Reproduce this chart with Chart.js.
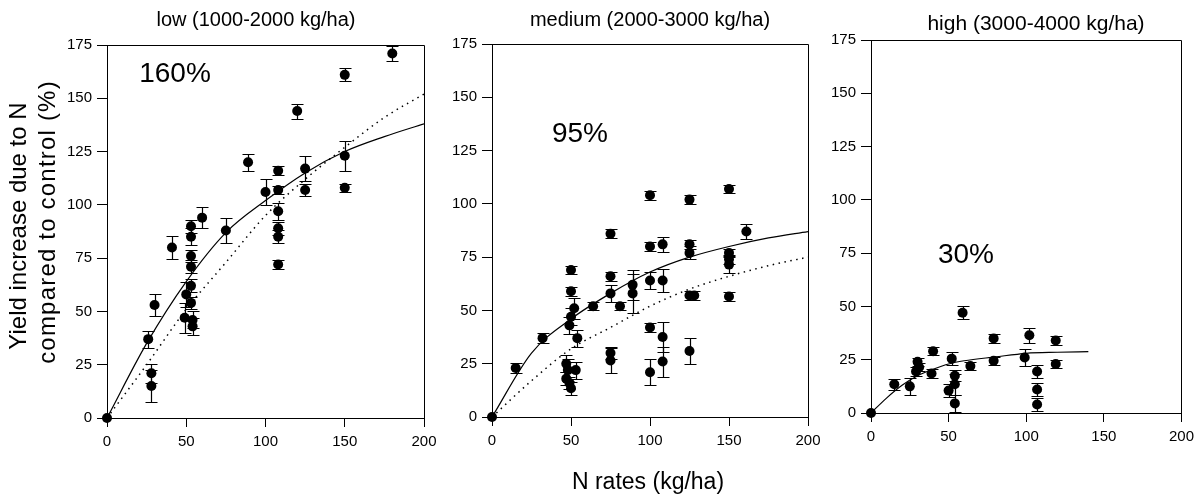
<!DOCTYPE html>
<html><head><meta charset="utf-8">
<script src="https://cdn.jsdelivr.net/npm/chart.js@4.4.1/dist/chart.umd.min.js"></script>
<style>
html,body{margin:0;padding:0;background:#fff;}
#wrap{position:relative;width:1200px;height:496px;overflow:hidden;background:#fff;font-family:"Liberation Sans",Arial,sans-serif;color:#000;}
canvas{position:absolute;left:0;top:0;}
.t{position:absolute;white-space:nowrap;transform:translate(-50%,-50%);line-height:1;}
.r{transform:translate(-50%,-50%) rotate(-90deg);}
</style></head><body>
<div id="wrap">
<canvas id="c1" width="1200" height="496"></canvas>
<canvas id="c2" width="1200" height="496"></canvas>
<canvas id="c3" width="1200" height="496"></canvas>
<div class="t" style="left:256px;top:19px;font-size:20px">low (1000-2000 kg/ha)</div>
<div class="t" style="left:650px;top:19px;font-size:20px">medium (2000-3000 kg/ha)</div>
<div class="t" style="left:1036px;top:22px;font-size:21px">high (3000-4000 kg/ha)</div>
<div class="t" style="left:175px;top:73px;font-size:28px">160%</div>
<div class="t" style="left:580px;top:133px;font-size:28px">95%</div>
<div class="t" style="left:966px;top:254px;font-size:28px">30%</div>
<div class="t r" style="left:18px;top:226px;font-size:24px">Yield increase due to N</div>
<div class="t r" style="left:47px;top:222px;font-size:24px;letter-spacing:1.2px">compared to control (%)</div>
<div class="t" style="left:648px;top:481px;font-size:23px">N rates (kg/ha)</div>
</div>
<script>
// tick labels
const xTicks = [0, 50, 100, 150, 200];
const yTicks = [0, 25, 50, 75, 100, 125, 150, 175];

// low yield level (1000-2000 kg/ha)
const lowN     = [0, 26, 30, 28, 28, 41, 49, 50, 53, 53, 53, 53, 53, 53, 54, 54, 60, 75, 89, 100, 108, 108, 108, 108, 108, 108, 120, 125, 125, 150, 150, 150, 180];
const lowYield = [0, 37, 53, 21, 15, 80, 47, 58, 90, 85, 76, 71, 62, 54, 46, 43, 94, 88, 120, 106, 116, 107, 97, 89, 85, 72, 144, 117, 107, 161, 123, 108, 171];
const lowErr   = [0, 4, 5, 4.5, 7.5, 5.5, 7, 6, 3, 4, 3, 3, 3, 3, 4, 4, 5, 6, 4, 6, 2, 2, 4, 3, 3, 2, 3.5, 6, 3, 3, 7, 2, 3.5];
const lowFitN      = [0, 25, 50, 75, 100, 125, 150, 175, 200];
const lowFitSolid  = [0, 35, 64, 87, 102, 115, 125, 132, 138];
const lowFitDotted = [0, 25, 51, 73, 95, 112, 127, 141, 152];

// medium yield level (2000-3000 kg/ha)
const medN     = [0, 15, 32, 50, 50, 52, 50, 49, 54, 47, 48, 53, 47, 49, 50, 64, 75, 75, 75, 75, 75, 81, 89, 89, 100, 100, 100, 100, 100, 108, 108, 108, 108, 125, 125, 125, 125, 128, 125, 150, 150, 150, 150, 150, 161];
const medYield = [0, 23, 37, 69, 59, 51, 47, 43, 37, 25, 22, 22, 18, 16, 13.5, 52, 86, 66, 58, 30, 26.5, 52, 62, 58, 104, 80, 64, 42, 21, 81, 64, 37.5, 26, 102, 81, 77, 57, 57, 31, 107, 77, 74, 71.5, 56.5, 87];
const medErr   = [0, 2.5, 2.5, 2, 2, 5, 4, 4, 4, 4, 5, 4, 3, 3, 3, 2, 2, 2, 4, 3, 6, 2, 7, 9, 2, 2, 4, 2, 6, 3.5, 5.5, 7, 7, 2, 2, 3, 2, 2, 6, 2, 2, 2, 4, 2, 3.5];
const medFitN      = [0, 25, 50, 75, 100, 125, 150, 175, 200];
const medFitSolid  = [0, 30, 46, 58, 68, 75, 80, 84, 87];
const medFitDotted = [0, 17, 32, 42, 52, 60, 66, 71, 75];

// high yield level (3000-4000 kg/ha)
const highN     = [0, 15, 25, 30, 31, 29, 40, 39, 52, 54, 54, 50, 54, 59, 64, 79, 79, 99, 102, 107, 107, 107, 119, 119];
const highYield = [0, 13.5, 12.5, 24, 21.5, 19.5, 29, 18.5, 25.5, 17.5, 13.5, 10.5, 4.5, 47, 22, 35, 24.5, 26, 36.5, 19.5, 11, 4, 34, 23];
const highErr   = [0, 2.5, 4, 2, 2, 2, 2, 2, 3, 2.5, 5, 3, 4, 3, 2, 2, 2, 4, 3.5, 3, 3, 3, 2, 2];
const highFitN     = [0, 10, 20, 30, 40, 50, 60, 80, 100, 120, 140];
const highFitSolid = [0, 7, 13, 17.5, 20.5, 23, 24.5, 26.3, 28, 28.5, 28.8];

const FONT = '"Liberation Sans", Arial, sans-serif';
const YW = 60, XH = 40;

const errorBars = {
  id: 'errorBars',
  afterDatasetsDraw(chart) {
    const ds = chart.data.datasets[0];
    const xs = chart.scales.x, ys = chart.scales.y, ctx = chart.ctx;
    ctx.save();
    ctx.strokeStyle = '#000';
    ctx.lineWidth = 1.2;
    ds.data.forEach((p, i) => {
      const e = ds.errors[i];
      if (!e) return;
      const x = Math.round(xs.getPixelForValue(p.x)) + 0.5;
      const y1 = Math.round(ys.getPixelForValue(p.y - e)) + 0.5;
      const y2 = Math.round(ys.getPixelForValue(p.y + e)) + 0.5;
      ctx.beginPath();
      ctx.moveTo(x, y1); ctx.lineTo(x, y2);
      ctx.moveTo(x - 6, y1); ctx.lineTo(x + 6, y1);
      ctx.moveTo(x - 6, y2); ctx.lineTo(x + 6, y2);
      ctx.stroke();
    });
    ctx.restore();
  }
};

const frame = {
  id: 'frame',
  afterDraw(chart) {
    const a = chart.chartArea, ctx = chart.ctx;
    const l = Math.round(a.left) + 0.5, r = Math.round(a.right) + 0.5;
    const t = Math.round(a.top) + 0.5, b = Math.round(a.bottom) + 0.5;
    ctx.save();
    ctx.strokeStyle = '#000';
    ctx.lineWidth = 1;
    ctx.beginPath();
    ctx.moveTo(l, t); ctx.lineTo(r, t); ctx.lineTo(r, b);
    ctx.stroke();
    ctx.restore();
  }
};

function panel(id, area, N, Y, E, fitN, fits) {
  const datasets = [{
    data: N.map((x, i) => ({ x: x, y: Y[i] })),
    errors: E,
    showLine: false,
    pointRadius: 5,
    pointHoverRadius: 5,
    pointBackgroundColor: '#000',
    pointBorderWidth: 0,
    clip: false,
    order: 0
  }];
  fits.forEach(f => {
    datasets.push({
      data: fitN.map((x, i) => ({ x: x, y: f.y[i] })),
      showLine: true,
      pointRadius: 0,
      borderColor: '#000',
      borderWidth: f.w,
      borderDash: f.dash,
      cubicInterpolationMode: 'monotone',
      fill: false,
      order: 1
    });
  });
  new Chart(document.getElementById(id), {
    type: 'scatter',
    data: { datasets: datasets },
    options: {
      responsive: false,
      animation: false,
      events: [],
      layout: { padding: { left: area.l - YW, right: 1200 - area.r, top: area.t, bottom: 496 - area.b - XH } },
      plugins: { legend: { display: false }, tooltip: { enabled: false } },
      scales: {
        x: {
          type: 'linear', min: 0, max: 200,
          afterBuildTicks: s => { s.ticks = xTicks.map(v => ({ value: v })); },
          afterFit: s => { s.height = XH; },
          grid: { drawOnChartArea: false, tickLength: 9, color: '#000' },
          border: { color: '#000', width: 1 },
          ticks: { color: '#000', font: { family: FONT, size: 15 }, padding: 6, maxRotation: 0, autoSkip: false }
        },
        y: {
          type: 'linear', min: 0, max: 175,
          afterBuildTicks: s => { s.ticks = yTicks.map(v => ({ value: v })); },
          afterFit: s => { s.width = YW; },
          grid: { drawOnChartArea: false, tickLength: 10, color: '#000' },
          border: { color: '#000', width: 1 },
          ticks: { color: '#000', font: { family: FONT, size: 15 }, padding: 5, autoSkip: false }
        }
      }
    },
    plugins: [errorBars, frame]
  });
}

panel('c1', { l: 107, r: 424, t: 45, b: 418 }, lowN, lowYield, lowErr, lowFitN,
  [{ y: lowFitSolid, w: 1.2, dash: [] }, { y: lowFitDotted, w: 1.5, dash: [1.5, 4.5] }]);
panel('c2', { l: 492, r: 808, t: 44, b: 417 }, medN, medYield, medErr, medFitN,
  [{ y: medFitSolid, w: 1.2, dash: [] }, { y: medFitDotted, w: 1.5, dash: [1.5, 4.5] }]);
panel('c3', { l: 871, r: 1187, t: 40, b: 413 }, highN, highYield, highErr, highFitN,
  [{ y: highFitSolid, w: 1.2, dash: [] }]);
</script>
</body></html>
